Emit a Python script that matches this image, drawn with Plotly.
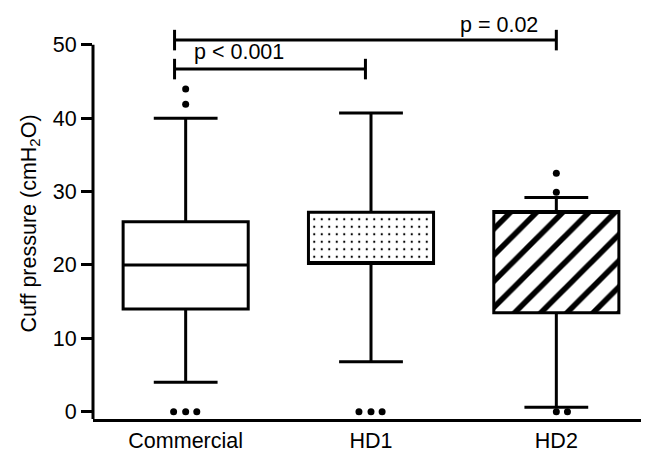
import plotly.graph_objects as go

# ---- data ----
categories = ["Commercial", "HD1", "HD2"]
lower_whisker = [4.0, 6.8, 0.6]
q1 = [14.0, 20.2, 13.5]
median = [20.0, 20.2, 27.3]
q3 = [25.9, 27.2, 27.3]
upper_whisker = [40.0, 40.7, 29.2]

# outliers: (category index, value, small horizontal jitter in category units)
outlier_cat = [0, 0, 0, 0, 0, 1, 1, 1, 2, 2, 2, 2]
outlier_val = [44.0, 41.9, 0, 0, 0, 0, 0, 0, 32.5, 29.9, 0, 0]
outlier_jit = [0, 0, -0.065, 0, 0.06, -0.065, 0, 0.06, 0, 0, 0, 0.06]

# significance brackets
sig_from = [-0.06, -0.06]
sig_to = [0.97, 2.0]
sig_level = [46.7, 50.65]
sig_text = ["p < 0.001", "p = 0.02"]
sig_text_x = [0.29, 1.69]
sig_text_y = [49.0, 52.7]

yticks = [0, 10, 20, 30, 40, 50]

FONT = "Liberation Sans, Arial, sans-serif"
FS = 21.5
YMIN, YMAX = -1, 52.3
BOXW = 0.675
idx = list(range(len(categories)))


def to_paper(v):
    return (v - YMIN) / (YMAX - YMIN)


fig = go.Figure()

# pattern fills (white, dots, hatch) under the boxes
fig.add_trace(go.Bar(
    x=idx, base=q1, y=[b - a for a, b in zip(q1, q3)], width=BOXW,
    marker=dict(color="white", line=dict(width=0),
                pattern=dict(shape=["", ".", "/"], size=[8, 7.5, 18.5],
                             solidity=[0.1, 0.07, 0.3],
                             fgcolor="black", bgcolor="white",
                             fgopacity=1, fillmode="replace")),
    showlegend=False, hoverinfo="skip"))

fig.add_trace(go.Box(
    x=idx, q1=q1, median=median, q3=q3, lowerfence=lower_whisker,
    upperfence=upper_whisker, width=BOXW, whiskerwidth=0.51,
    boxpoints=False, fillcolor="rgba(0,0,0,0)",
    line=dict(color="black", width=3), showlegend=False))

fig.add_trace(go.Scatter(
    x=[c + j for c, j in zip(outlier_cat, outlier_jit)], y=outlier_val,
    mode="markers", marker=dict(color="black", size=7),
    showlegend=False, cliponaxis=False))

# significance brackets
for x0, x1, yv in zip(sig_from, sig_to, sig_level):
    fig.add_shape(type="line", xref="x", yref="y", x0=x0, x1=x1, y0=yv, y1=yv,
                  line=dict(color="black", width=3))
    for xe in (x0, x1):
        fig.add_shape(type="line", xref="x", yref="y", x0=xe, x1=xe,
                      y0=yv - 1.4, y1=yv + 1.4, line=dict(color="black", width=3))
for t, tx, ty in zip(sig_text, sig_text_x, sig_text_y):
    fig.add_annotation(x=tx, y=to_paper(ty), xref="x", yref="paper", text=t,
                       showarrow=False,
                       font=dict(family=FONT, size=FS, color="black"),
                       xanchor="center", yanchor="middle")

# y axis line (from the bottom to 50 only)
fig.add_shape(type="line", xref="paper", yref="y", x0=0, x1=0, y0=YMIN, y1=50,
              line=dict(color="black", width=3))

# the page body adds an 8px margin; size the figure to fill the 649x454 window
fig.update_layout(
    width=641, height=446,
    margin=dict(l=85, r=0, t=20, b=35),
    plot_bgcolor="white", paper_bgcolor="white",
    font=dict(family=FONT, size=FS, color="black"),
    bargap=0, boxgap=0,
    xaxis=dict(range=[-0.5, 2.5], tickvals=idx, ticktext=categories,
               showline=True, linecolor="black", linewidth=3, ticks="",
               showgrid=False, zeroline=False,
               tickfont=dict(family=FONT, size=FS, color="black")),
    yaxis=dict(range=[YMIN, YMAX], tickvals=yticks, ticks="outside", ticklen=11,
               tickwidth=3, tickcolor="black", showline=False, showgrid=False,
               zeroline=False,
               tickfont=dict(family=FONT, size=FS, color="black"),
               title=dict(text="Cuff pressure (cmH<sub>2</sub>O)",
                          font=dict(family=FONT, size=FS, color="black"),
                          standoff=10)),
)

fig.write_html("out.html")
